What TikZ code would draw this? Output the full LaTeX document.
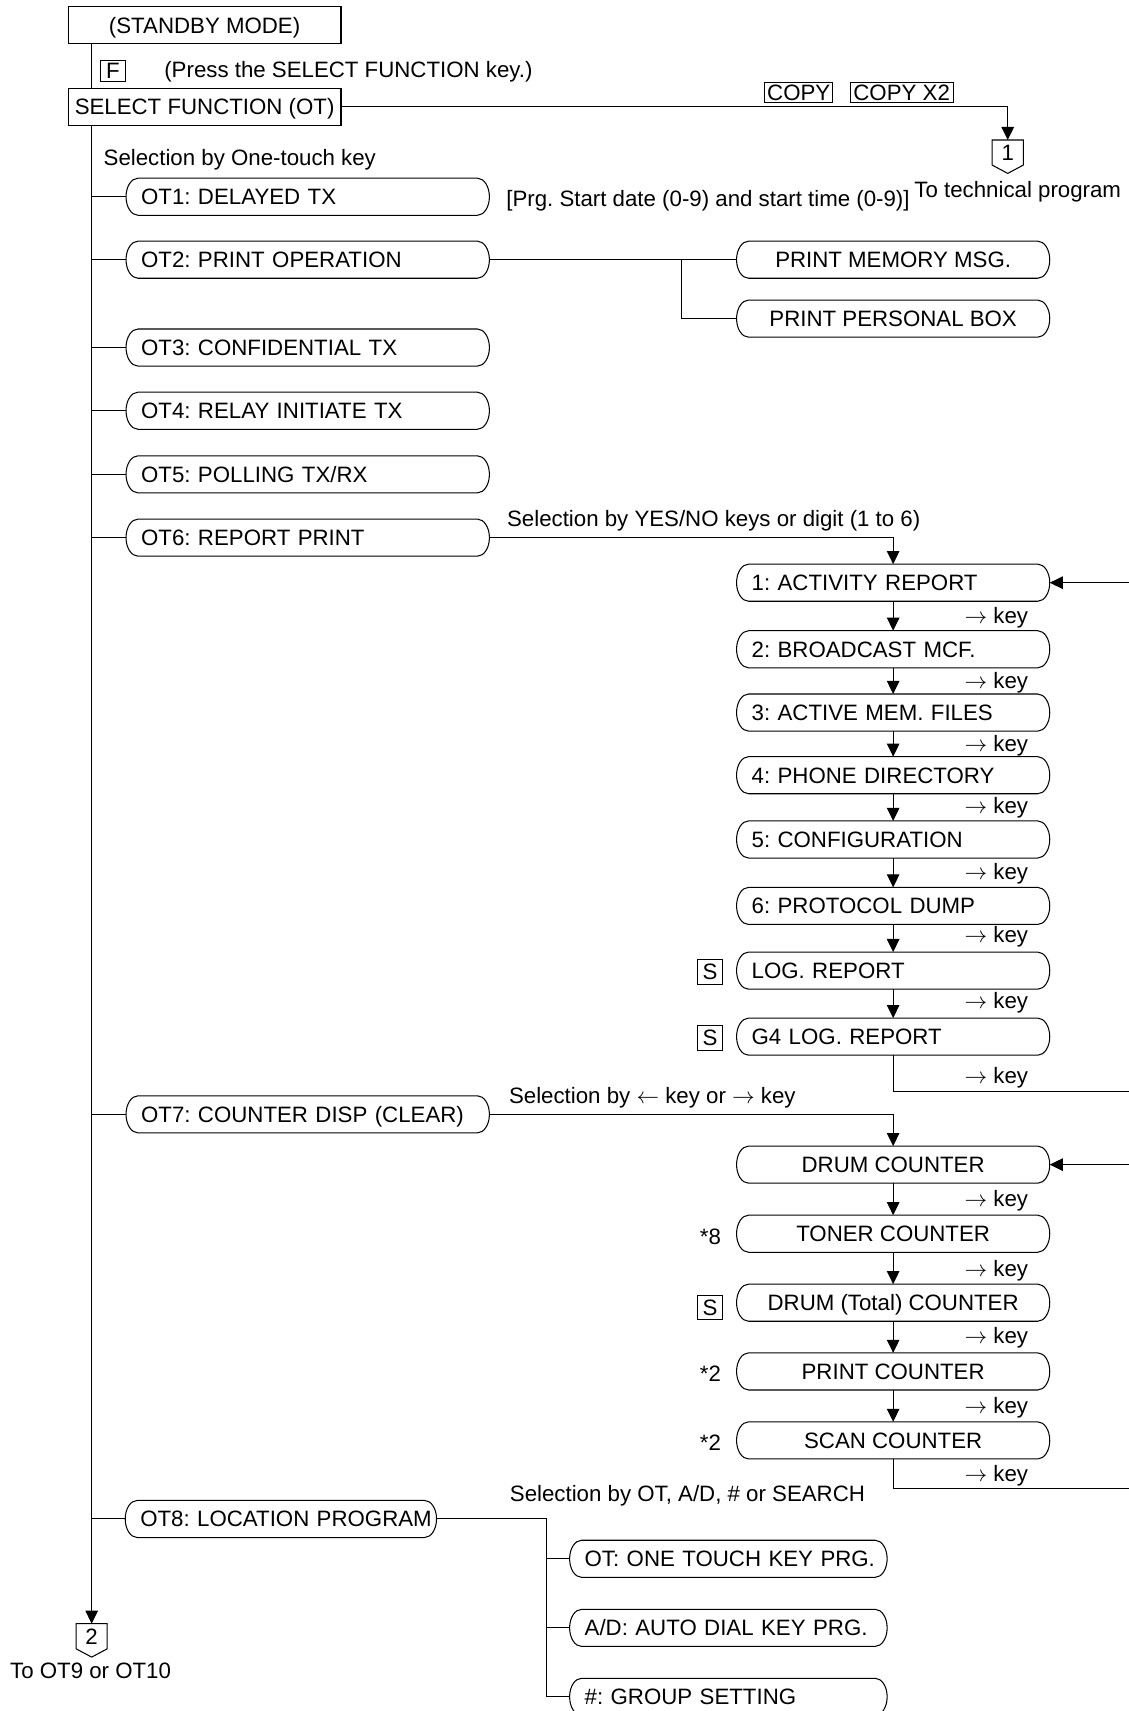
\documentclass[tikz,border=0pt]{standalone}
\usepackage{fontspec}
\setmainfont{Liberation Sans}
\usetikzlibrary{arrows.meta,calc}
\frenchspacing
\newcommand\mycaps[1]{\draw[line width=0.95pt] ([xshift=11pt]#1.north west) -- ([xshift=-11pt]#1.north east) arc[start angle=90,end angle=-90,x radius=11pt,y radius=17pt] -- ([xshift=11pt]#1.south west) arc[start angle=270,end angle=90,x radius=11pt,y radius=17pt] -- cycle;}
\newcommand\mypent[1]{\draw[line width=0.95pt] (#1.north west) -- (#1.north east) -- (#1.south east) -- ([yshift=-7.6pt]#1.south) -- (#1.south west) -- cycle;}
\begin{document}
\frenchspacing
\begin{tikzpicture}[x=1pt,y=-1pt,
 every node/.style={font=\fontsize{20.4pt}{24pt}\selectfont\frenchspacing, text height=14.6pt, text depth=0pt, inner sep=0pt, outer sep=0pt},
 ln/.style={line width=0.95pt},
 arr/.style={ln,-{Triangle[length=12pt,width=11.5pt]}},
 sqbox/.style={draw, line width=0.95pt, minimum width=250pt, minimum height=34pt},
 keybox/.style={draw, line width=0.95pt, minimum width=23.5pt, minimum height=21pt},
 capl/.style={minimum height=34pt, text width=#1, align=left, inner xsep=13.8pt},
 capc/.style={minimum height=34pt, minimum width=#1, align=center},
 lab/.style={anchor=west},
 pent/.style={minimum width=28.5pt, minimum height=23pt},
]
\useasboundingbox (0,0) rectangle (1034,1568);
\coordinate (mx) at (84,0);
% top
\node[sqbox] (standby) at (187.5,23.2) {(STANDBY MODE)};
\node[sqbox] (select) at (187.5,97.8) {SELECT FUNCTION (OT)};
\node[keybox, minimum height=19pt] (fkey) at (103.5,65) {F};
\node[lab] (press) at (150.6,64) {(Press the SELECT FUNCTION key.)};
\node[lab] (selot) at (95,144) {Selection by One-touch key};
\node[keybox, minimum width=62pt, minimum height=18.5pt] (copy) at (732,84.8) {COPY};
\node[keybox, minimum width=94.6pt, minimum height=18.5pt] (copyx) at (826.3,84.8) {COPY X2};
\node[pent] (p1) at (923.5,139.8) {1};
\node[lab] (totech) at (838,173.5) {To technical program};
% OT boxes
\node[capl=305.4pt] (ot1) at (282,180.3) {OT1: DELAYED TX};
\node[capl=305.4pt] (ot2) at (282,238) {OT2: PRINT OPERATION};
\node[capl=305.4pt] (ot3) at (282,318.5) {OT3: CONFIDENTIAL TX};
\node[capl=305.4pt] (ot4) at (282,376.4) {OT4: RELAY INITIATE TX};
\node[capl=305.4pt] (ot5) at (282,434.7) {OT5: POLLING TX/RX};
\node[capl=305.4pt] (ot6) at (282,492.7) {OT6: REPORT PRINT};
\node[capl=305.4pt] (ot7) at (282,1021.2) {OT7: COUNTER DISP (CLEAR)};
\node[capl=257.7pt] (ot8) at (257.4,1392) {\mbox{OT8: LOCATION PROGRAM}};
\node[lab] (prg) at (464,182) {[Prg. Start date (0-9) and start time (0-9)]};
% OT2 subs
\node[capc=287pt] (pm) at (818.5,238) {PRINT MEMORY MSG.};
\node[capc=287pt] (pp) at (818.5,292) {PRINT PERSONAL BOX};
\coordinate (jb) at (624.6,238);
% OT6 reports
\node[lab] (selyn) at (464.7,475) {Selection by YES/NO keys or digit (1 to 6)};
\node[capl=259.4pt] (r1) at (818.5,534) {1: ACTIVITY REPORT};
\node[capl=259.4pt] (r2) at (818.5,595) {2: BROADCAST MCF.};
\node[capl=259.4pt] (r3) at (818.5,653) {3: ACTIVE MEM. FILES};
\node[capl=259.4pt] (r4) at (818.5,710.4) {4: PHONE DIRECTORY};
\node[capl=259.4pt] (r5) at (818.5,769.3) {5: CONFIGURATION};
\node[capl=259.4pt] (r6) at (818.5,830.2) {6: PROTOCOL DUMP};
\node[capl=259.4pt] (r7) at (818.5,889.5) {LOG. REPORT};
\node[capl=259.4pt] (r8) at (818.5,950) {G4 LOG. REPORT};
\node[keybox, minimum height=22.5pt] (s1) at (650.6,890.7) {S};
\node[keybox, minimum height=22.5pt] (s2) at (650.6,951) {S};
\foreach \y/\nm in {563.8/k1,623.3/k2,681.4/k3,738/k4,799/k5,856.2/k6,916.7/k7,985.4/k8,1098.5/k9,1162.6/k10,1223.8/k11,1288/k12,1350.6/k13}
  \node[lab] (\nm) at (884,\y) {$\rightarrow$ key};
% OT7 counters
\node[lab] (sellr) at (466.5,1003.8) {Selection by $\leftarrow$ key or $\rightarrow$ key};
\node[capc=287pt] (c1) at (818.5,1067.3) {DRUM COUNTER};
\node[capc=287pt] (c2) at (818.5,1130.6) {TONER COUNTER};
\node[capc=287pt] (c3) at (818.5,1193.8) {DRUM (Total) COUNTER};
\node[capc=287pt] (c4) at (818.5,1256.8) {PRINT COUNTER};
\node[capc=287pt] (c5) at (818.5,1320) {SCAN COUNTER};
\node (n8) at (651,1133) {*8};
\node[keybox, minimum height=22.5pt] (s3) at (650.6,1198.2) {S};
\node (n2a) at (651,1259) {*2};
\node (n2b) at (651,1321.5) {*2};
% OT8 subs
\node[lab] (selot8) at (467.3,1369) {Selection by OT, A/D, \# or SEARCH};
\node[capl=263.4pt] (g1) at (667.5,1428.5) {\mbox{OT: ONE TOUCH KEY PRG.}};
\node[capl=263.4pt] (g2) at (667.5,1491.8) {\mbox{A/D: AUTO DIAL KEY PRG.}};
\node[capl=263.4pt] (g3) at (667.5,1555) {\#: GROUP SETTING};
\coordinate (jo) at (501,1392);
% bottom connector
\node[pent] (p2) at (84,1499.5) {2};
\node (toot9) at (83,1531) {To OT9 or OT10};
% shapes
\foreach \n in {ot1,ot2,ot3,ot4,ot5,ot6,ot7,ot8,pm,pp,r1,r2,r3,r4,r5,r6,r7,r8,c1,c2,c3,c4,c5,g1,g2,g3} {\mycaps{\n}}
\mypent{p1}
\mypent{p2}
% connectors
\draw[ln] (standby.south -| mx) -- (select.north -| mx);
\draw[arr] (select.south -| mx) -- (p2.north);
\draw[arr] (select.east) -| (p1.north);
\foreach \n in {ot1,ot2,ot3,ot4,ot5,ot6,ot7,ot8} {\draw[ln] (\n.west -| mx) -- (\n.west);}
\draw[ln] (ot2.east) -- (pm.west);
\draw[ln] (jb) |- (pp.west);
\draw[arr] (ot6.east) -| (r1.north);
\foreach \a/\b in {r1/r2,r2/r3,r3/r4,r4/r5,r5/r6,r6/r7,r7/r8,c1/c2,c2/c3,c3/c4,c4/c5} {\draw[arr] (\a.south) -- (\b.north);}
\draw[arr] (r8.south) |- (1040,1000.7) |- (r1.east);
\draw[arr] (ot7.east) -| (c1.north);
\draw[arr] (c5.south) |- (1040,1364.3) |- (c1.east);
\draw[ln] (ot8.east) -- (jo) |- (g3.west);
\draw[ln] (g1.west -| jo) -- (g1.west);
\draw[ln] (g2.west -| jo) -- (g2.west);
\end{tikzpicture}
\end{document}
